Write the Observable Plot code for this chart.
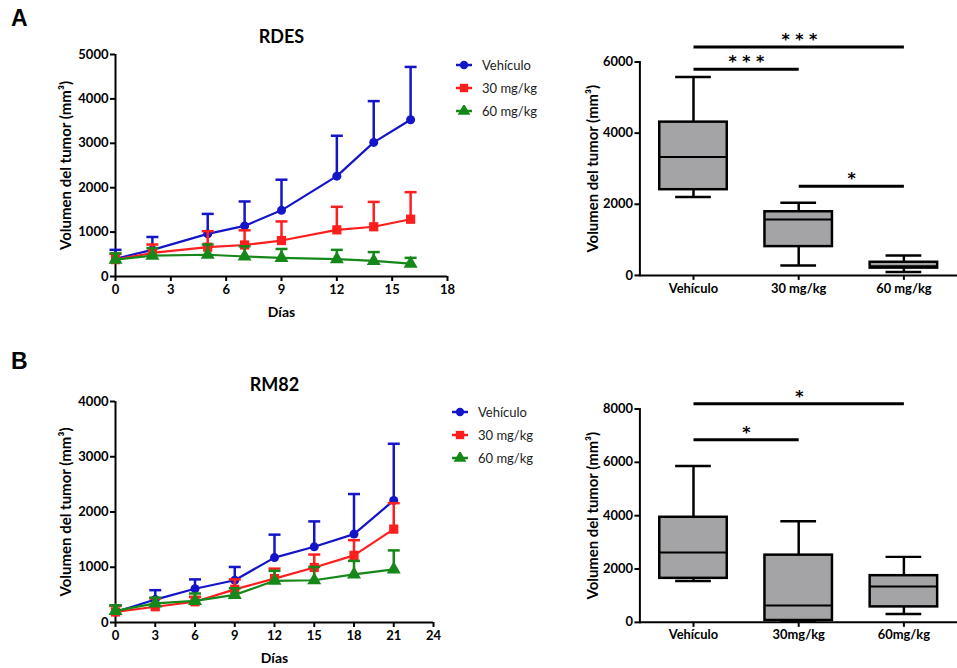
<!DOCTYPE html>
<html>
<head>
<meta charset="utf-8">
<script src="https://cdn.jsdelivr.net/npm/d3@7"></script>
<script src="https://cdn.jsdelivr.net/npm/@observablehq/plot@0.6"></script>
<style>
  html, body { margin: 0; padding: 0; background: #fff; }
  #root { position: relative; width: 957px; height: 668px; background: #fff; overflow: hidden; font-family: Lato, sans-serif; }
  .panel { position: absolute; }
  .letter { position: absolute; font-family: "Liberation Sans", Arial, sans-serif; font-weight: bold; font-size: 23px; color: #000; }
  .legend { position: absolute; font-family: Lato, sans-serif; font-size: 13px; color: #222; }
  .legend .row { display: flex; align-items: center; height: 23px; }
  .legend svg { margin-right: 9px; }
</style>
</head>
<body>
<div id="root"></div>
<script>
// ---------------- DATA ----------------
const seriesNames = ["Vehículo", "30 mg/kg", "60 mg/kg"];
const seriesColors = ["#1414c8", "#ff1e1e", "#16881a"];
const seriesSymbols = ["circle", "square", "triangle"];

// Panel A – RDES (mean and upper SD)
const daysA = [0, 2, 5, 7, 9, 12, 14, 16];
const vehA = [400, 600, 960, 1140, 1490, 2260, 3020, 3530];
const vehA_sd = [200, 290, 450, 550, 690, 910, 930, 1190];
const mg30A = [380, 530, 660, 710, 810, 1050, 1120, 1290];
const mg30A_sd = [130, 190, 360, 330, 430, 520, 560, 610];
const mg60A = [380, 470, 490, 450, 420, 390, 350, 290];
const mg60A_sd = [140, 170, 230, 230, 200, 210, 200, 130];
const xTicksA = [0, 3, 6, 9, 12, 15, 18];
const yTicksA = [0, 1000, 2000, 3000, 4000, 5000];

// Panel B – RM82
const daysB = [0, 3, 6, 9, 12, 15, 18, 21];
const vehB = [190, 415, 610, 765, 1175, 1370, 1600, 2210];
const vehB_sd = [120, 170, 170, 240, 415, 460, 725, 1025];
const mg30B = [190, 285, 375, 600, 795, 995, 1215, 1690];
const mg30B_sd = [110, 150, 90, 180, 180, 235, 275, 470];
const mg60B = [210, 345, 390, 500, 755, 765, 870, 960];
const mg60B_sd = [100, 105, 135, 120, 180, 240, 245, 345];
const xTicksB = [0, 3, 6, 9, 12, 15, 18, 21, 24];
const yTicksB = [0, 1000, 2000, 3000, 4000];

// Box plots
const boxCatsA = ["Vehículo", "30 mg/kg", "60 mg/kg"];
const boxMinA = [2205, 280, 95];
const boxQ1A = [2410, 810, 205];
const boxMedA = [3330, 1570, 260];
const boxQ3A = [4310, 1790, 370];
const boxMaxA = [5580, 2040, 560];
const boxTicksA = [0, 2000, 4000, 6000];
const sigFromA = ["Vehículo", "Vehículo", "30 mg/kg"];
const sigToA = ["60 mg/kg", "30 mg/kg", "60 mg/kg"];
const sigYA = [6420, 5795, 2510];
const sigLabelA = ["* * *", "* * *", "*"];

const boxCatsB = ["Vehículo", "30mg/kg", "60mg/kg"];
const boxMinB = [1550, 20, 310];
const boxQ1B = [1650, 70, 580];
const boxMedB = [2615, 630, 1340];
const boxQ3B = [3940, 2520, 1750];
const boxMaxB = [5865, 3795, 2455];
const boxTicksB = [0, 2000, 4000, 6000, 8000];
const sigFromB = ["Vehículo", "Vehículo"];
const sigToB = ["60mg/kg", "30mg/kg"];
const sigYB = [8200, 6845];
const sigLabelB = ["*", "*"];

// ---------------- HELPERS ----------------
const root = document.getElementById("root");
const yLabel = "Volumen del tumor (mm³)";
const capSymbol = {
  draw(context, size) {
    const w = Math.sqrt(size / Math.PI);
    context.moveTo(-w, 0);
    context.lineTo(w, 0);
  }
};
const fmt = d3.format("d");

function rows(days, means, sds) {
  return days.map((d, i) => ({day: d, mean: means[i], upper: means[i] + sds[i]}));
}

function place(el, left, top) {
  const div = document.createElement("div");
  div.className = "panel";
  div.style.left = left + "px";
  div.style.top = top + "px";
  div.appendChild(el);
  root.appendChild(div);
}

function lineChart({title, groups, xDomain, xTicks, yDomain, yTicks, width, height, margins, titleDy}) {
  const marks = [];
  groups.forEach((data, i) => {
    const c = seriesColors[i];
    marks.push(Plot.ruleX(data, {x: "day", y1: "mean", y2: "upper", stroke: c, strokeWidth: 2.5}));
    marks.push(Plot.dot(data, {x: "day", y: "upper", symbol: capSymbol, r: 6, stroke: c, strokeWidth: 2.5, fill: "none"}));
    marks.push(Plot.line(data, {x: "day", y: "mean", stroke: c, strokeWidth: 2.2}));
    marks.push(Plot.dot(data, {x: "day", y: "mean", symbol: seriesSymbols[i], r: seriesSymbols[i] === "circle" ? 4.5 : 5.2, fill: c, stroke: "none"}));
  });
  return Plot.plot({
    width, height,
    marginLeft: margins[0], marginRight: margins[1], marginTop: margins[2], marginBottom: margins[3],
    style: {fontFamily: "Lato, sans-serif", fontSize: "13px", fontWeight: "bold", color: "#000", background: "transparent", overflow: "visible"},
    x: {domain: xDomain},
    y: {domain: yDomain},
    marks: [
      Plot.ruleX([xDomain[0]], {stroke: "#000", strokeWidth: 2}),
      Plot.ruleY([yDomain[0]], {stroke: "#000", strokeWidth: 2}),
      Plot.axisX({ticks: xTicks, tickFormat: fmt, tickSize: 5, tickPadding: 3, strokeWidth: 2, label: null, fontSize: 13}),
      Plot.axisY({ticks: yTicks, tickFormat: fmt, tickSize: 5, tickPadding: 2, strokeWidth: 2, label: null, fontSize: 13}),
      Plot.text([yLabel], {frameAnchor: "left", rotate: -90, dx: -49, textAnchor: "middle", fontSize: 15, fontWeight: "bold"}),
      Plot.text(["Días"], {frameAnchor: "bottom", dy: 36, lineAnchor: "middle", fontSize: 14, fontWeight: "bold"}),
      Plot.text([title], {frameAnchor: "top", dy: titleDy, lineAnchor: "middle", fontSize: 18, fontWeight: "bold"}),
      ...marks
    ]
  });
}

function boxChart({cats, mins, q1s, meds, q3s, maxs, yDomain, yTicks, sigFrom, sigTo, sigY, sigLabel, width, height, margins}) {
  const data = cats.map((c, i) => ({cat: c, min: mins[i], q1: q1s[i], med: meds[i], q3: q3s[i], max: maxs[i]}));
  const step = (width - margins[0] - margins[1]) / cats.length;
  const sigMarks = [];
  sigFrom.forEach((f, i) => {
    const d = [{from: f, to: sigTo[i], y: sigY[i], label: sigLabel[i]}];
    const off = (cats.indexOf(sigTo[i]) - cats.indexOf(f)) * step / 2;
    sigMarks.push(Plot.link(d, {x1: "from", x2: "to", y1: "y", y2: "y", stroke: "#000", strokeWidth: 3}));
    sigMarks.push(Plot.text(d, {x: "from", y: "y", text: "label", dx: off, dy: -7, fontSize: 16, fontWeight: "bold", fontFamily: "DejaVu Sans"}));
  });
  return Plot.plot({
    width, height,
    marginLeft: margins[0], marginRight: margins[1], marginTop: margins[2], marginBottom: margins[3],
    style: {fontFamily: "Lato, sans-serif", fontSize: "13px", fontWeight: "bold", color: "#000", background: "transparent", overflow: "visible"},
    x: {type: "band", domain: cats, padding: 0},
    y: {domain: yDomain},
    marks: [
      Plot.frame({anchor: "left", stroke: "#000", strokeWidth: 2}),
      Plot.ruleY([yDomain[0]], {stroke: "#000", strokeWidth: 2}),
      Plot.axisX({tickSize: 5, tickPadding: 3, strokeWidth: 2, label: null, fontSize: 13}),
      Plot.axisY({ticks: yTicks, tickFormat: fmt, tickSize: 5, tickPadding: 2, strokeWidth: 2, label: null, fontSize: 13}),
      Plot.text([yLabel], {frameAnchor: "left", rotate: -90, dx: -47, textAnchor: "middle", fontSize: 15, fontWeight: "bold"}),
      Plot.ruleX(data, {x: "cat", y1: "min", y2: "max", stroke: "#000", strokeWidth: 2.5}),
      Plot.tickY(data, {x: "cat", y: "max", insetLeft: 35, insetRight: 35, stroke: "#000", strokeWidth: 2.5}),
      Plot.tickY(data, {x: "cat", y: "min", insetLeft: 35, insetRight: 35, stroke: "#000", strokeWidth: 2.5}),
      Plot.barY(data, {x: "cat", y1: "q1", y2: "q3", fill: "#a4a4a7", stroke: "#000", strokeWidth: 2.5, insetLeft: 19, insetRight: 19}),
      Plot.tickY(data, {x: "cat", y: "med", insetLeft: 19, insetRight: 19, stroke: "#000", strokeWidth: 2}),
      ...sigMarks
    ]
  });
}

function legend(left, top) {
  const div = document.createElement("div");
  div.className = "legend";
  div.style.left = left + "px";
  div.style.top = top + "px";
  seriesNames.forEach((name, i) => {
    const row = document.createElement("div");
    row.className = "row";
    const c = seriesColors[i];
    const sym = d3.symbol(i === 0 ? d3.symbolCircle : i === 1 ? d3.symbolSquare : d3.symbolTriangle, i === 0 ? 55 : 70)();
    row.innerHTML = `<svg width="18" height="12" viewBox="-9 -6 18 12"><line x1="-8" x2="8" y1="0" y2="0" stroke="${c}" stroke-width="2.5"/><path d="${sym}" fill="${c}"/></svg><span>${name}</span>`;
    div.appendChild(row);
  });
  root.appendChild(div);
}

// ---------------- BUILD ----------------
place(lineChart({
  title: "RDES",
  groups: [rows(daysA, vehA, vehA_sd), rows(daysA, mg30A, mg30A_sd), rows(daysA, mg60A, mg60A_sd)],
  xDomain: [0, 18], xTicks: xTicksA, yDomain: [0, 5000], yTicks: yTicksA,
  width: 460, height: 330, margins: [115, 13, 54, 54], titleDy: -17
}), 0, 0);

place(lineChart({
  title: "RM82",
  groups: [rows(daysB, vehB, vehB_sd), rows(daysB, mg30B, mg30B_sd), rows(daysB, mg60B, mg60B_sd)],
  xDomain: [0, 24], xTicks: xTicksB, yDomain: [0, 4000], yTicks: yTicksB,
  width: 460, height: 328, margins: [115, 27, 61, 46], titleDy: -16
}), 0, 340);

place(boxChart({
  cats: boxCatsA, mins: boxMinA, q1s: boxQ1A, meds: boxMedA, q3s: boxQ3A, maxs: boxMaxA,
  yDomain: [0, 6000], yTicks: boxTicksA,
  sigFrom: sigFromA, sigTo: sigToA, sigY: sigYA, sigLabel: sigLabelA,
  width: 400, height: 330, margins: [80, 0, 62, 53]
}), 560, 0);

place(boxChart({
  cats: boxCatsB, mins: boxMinB, q1s: boxQ1B, meds: boxMedB, q3s: boxQ3B, maxs: boxMaxB,
  yDomain: [0, 8000], yTicks: boxTicksB,
  sigFrom: sigFromB, sigTo: sigToB, sigY: sigYB, sigLabel: sigLabelB,
  width: 400, height: 328, margins: [80, 0, 69, 44]
}), 560, 340);

legend(455, 53);
legend(451, 400);

const la = document.createElement("div"); la.className = "letter"; la.textContent = "A"; la.style.left = "11px"; la.style.top = "5px"; root.appendChild(la);
const lb = document.createElement("div"); lb.className = "letter"; lb.textContent = "B"; lb.style.left = "11px"; lb.style.top = "348px"; root.appendChild(lb);
</script>
</body>
</html>
